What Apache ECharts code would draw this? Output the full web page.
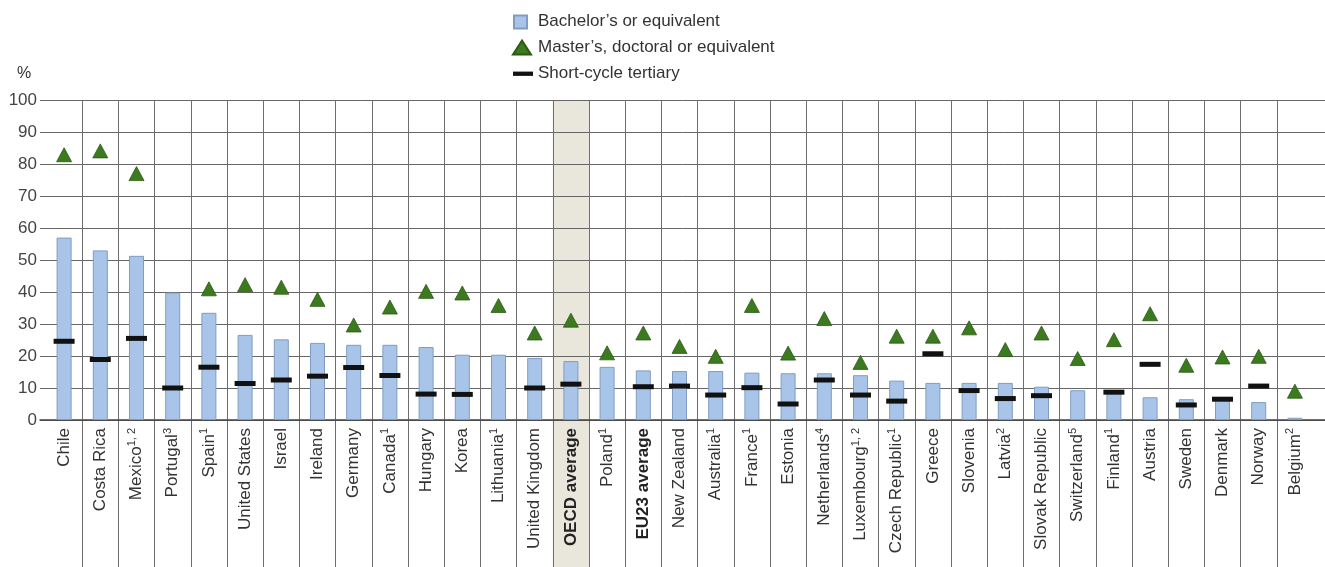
<!DOCTYPE html>
<html>
<head>
<meta charset="utf-8">
<script src="https://cdn.jsdelivr.net/npm/echarts@6/dist/echarts.min.js"></script>
<style>
html,body{margin:0;padding:0;background:#fff;}
#chart{width:1325px;height:567px;}
</style>
</head>
<body>
<div id="chart"></div>
<script>
var categories = ['Chile','Costa Rica','Mexico','Portugal','Spain','United States','Israel','Ireland','Germany','Canada','Hungary','Korea','Lithuania','United Kingdom','OECD average','Poland','EU23 average','New Zealand','Australia','France','Estonia','Netherlands','Luxembourg','Czech Republic','Greece','Slovenia','Latvia','Slovak Republic','Switzerland','Finland','Austria','Sweden','Denmark','Norway','Belgium'];
var notes = ['', '', '1, 2', '3', '1', '', '', '', '', '1', '', '', '1', '', '', '1', '', '', '1', '1', '', '4', '1, 2', '1', '', '', '2', '', '5', '1', '', '', '', '', '2'];
var boldLabels = ['OECD average', 'EU23 average'];
var highlighted = ['OECD average'];
var bachelor = [57, 53, 51.3, 39.8, 33.5, 26.6, 25.2, 24.1, 23.5, 23.5, 22.8, 20.4, 20.4, 19.4, 18.4, 16.6, 15.5, 15.3, 15.3, 14.8, 14.6, 14.6, 14.0, 12.3, 11.6, 11.6, 11.6, 10.4, 9.3, 9.0, 7.1, 6.5, 6.9, 5.6, 0.7];
var master = [82.9, 84.1, 77, null, 41, 42.3, 41.5, 37.7, 29.7, 35.3, 40.2, 39.7, 35.8, 27.2, 31.2, 21, 27.2, 23, 19.9, 35.8, 20.9, 31.7, 18, 26.2, 26.2, 28.8, 22, 27.2, 19.2, 25.1, 33.2, 17.1, 19.7, 19.9, 9.0];
var shortCycle = [24.6, 18.9, 25.5, 10, 16.5, 11.4, 12.5, 13.7, 16.4, 13.9, 8.1, 8.0, null, 10, 11.2, null, 10.4, 10.6, 7.8, 10.1, 5.0, 12.5, 7.8, 5.9, 20.7, 9.2, 6.7, 7.6, null, 8.7, 17.4, 4.7, 6.5, 10.6, null];
var yTicks = [0, 10, 20, 30, 40, 50, 60, 70, 80, 90, 100];

var FONT = 'Liberation Sans, Arial, sans-serif';
var bandData = categories.map(function (c) { return highlighted.indexOf(c) >= 0 ? 1 : null; });

var chart = echarts.init(document.getElementById('chart'), null, {renderer: 'canvas'});
var option = {
  animation: false,
  backgroundColor: '#ffffff',
  textStyle: {fontFamily: FONT},
  graphic: [{
    type: 'text', left: 17, top: 66,
    style: {text: '%', fontSize: 16, fontFamily: FONT, fill: '#333'}
  }],
  legend: {
    orient: 'vertical',
    left: 507, top: 8,
    itemWidth: 20, itemHeight: 14, itemGap: 9,
    selectedMode: false,
    textStyle: {fontSize: 17, color: '#333', fontFamily: FONT},
    data: [
      {name: "Bachelor’s or equivalent", icon: 'path://M0,0M20,14M1,1H14V14H1Z'},
      {name: "Master’s, doctoral or equivalent", icon: 'path://M0,0M20,14M9,0L18,14H0Z'},
      {name: 'Short-cycle tertiary', icon: 'path://M0,0M20,14M0,5H21V9.5H0Z'}
    ]
  },
  grid: [
    {left: 40, right: 0, top: 100, bottom: 147},
    {left: 46, right: 12, top: 100, bottom: 147},
    {left: 46, right: 12, top: 100, bottom: 0}
  ],
  xAxis: [
    {gridIndex: 0, type: 'value', min: 0, max: 1, z: 1,
     axisLine: {show: true, onZero: false, lineStyle: {color: '#444', width: 1.5}},
     axisTick: {show: false}, axisLabel: {show: false}, splitLine: {show: false}},
    {gridIndex: 1, type: 'category', data: categories, z: 1,
     axisLine: {show: false}, axisTick: {show: false}, splitLine: {show: false},
     axisLabel: {
       interval: 0, rotate: 90, margin: 8, fontSize: 17, color: '#333', fontFamily: FONT,
       formatter: function (v) {
         var idx = categories.indexOf(v);
         var note = notes[idx];
         var main = boldLabels.indexOf(v) >= 0 ? '{b|' + v + '}' : '{n|' + v + '}';
         return main + (note ? '{sup|' + note + '}' : '');
       },
       rich: {
         n: {fontSize: 17, color: '#333', fontFamily: FONT, lineHeight: 20},
         b: {fontSize: 17, color: '#222', fontWeight: 'bold', fontFamily: FONT, lineHeight: 20},
         sup: {fontSize: 11, color: '#333', fontFamily: FONT, verticalAlign: 'top', lineHeight: 20, padding: [0, 0, 8, 0]}
       }
     }},
    {gridIndex: 2, type: 'category', data: categories, z: 1,
     axisLine: {show: false}, axisTick: {show: false},
     axisLabel: {show: false, interval: 0},
     splitLine: {show: true, interval: 0, showMinLine: false, showMaxLine: false, lineStyle: {color: '#6e6e6e', width: 1}}}
  ],
  yAxis: [
    {gridIndex: 0, type: 'value', min: 0, max: 100, interval: 10, z: 1,
     axisLine: {show: false}, axisTick: {show: false},
     axisLabel: {fontSize: 17, color: '#444', margin: 3, fontFamily: FONT},
     splitLine: {show: true, lineStyle: {color: '#666666', width: 1}}},
    {gridIndex: 1, type: 'value', min: 0, max: 100, interval: 10, show: false},
    {gridIndex: 2, type: 'value', min: 0, max: 1, show: false}
  ],
  series: [
    {
      name: 'band', type: 'bar', xAxisIndex: 2, yAxisIndex: 2, z: 0,
      data: bandData, barWidth: '100%', silent: true,
      itemStyle: {color: '#e9e6dc'}
    },
    {
      name: "Bachelor’s or equivalent", type: 'bar', xAxisIndex: 1, yAxisIndex: 1, z: 2,
      data: bachelor, barWidth: 15,
      itemStyle: {color: '#a8c5e9', borderColor: '#7f9cc4', borderWidth: 1, opacity: 1}
    },
    {
      name: 'Short-cycle tertiary', type: 'scatter', xAxisIndex: 1, yAxisIndex: 1, z: 3,
      data: shortCycle, symbol: 'rect', symbolSize: [21, 5],
      itemStyle: {color: '#111111', opacity: 1}
    },
    {
      name: "Master’s, doctoral or equivalent", type: 'scatter', xAxisIndex: 1, yAxisIndex: 1, z: 4,
      data: master, symbol: 'triangle', symbolSize: [15, 14],
      itemStyle: {color: '#3b7a1e', borderColor: '#2b5a14', borderWidth: 0.8, opacity: 1}
    }
  ]
};
chart.setOption(option);
</script>
</body>
</html>
